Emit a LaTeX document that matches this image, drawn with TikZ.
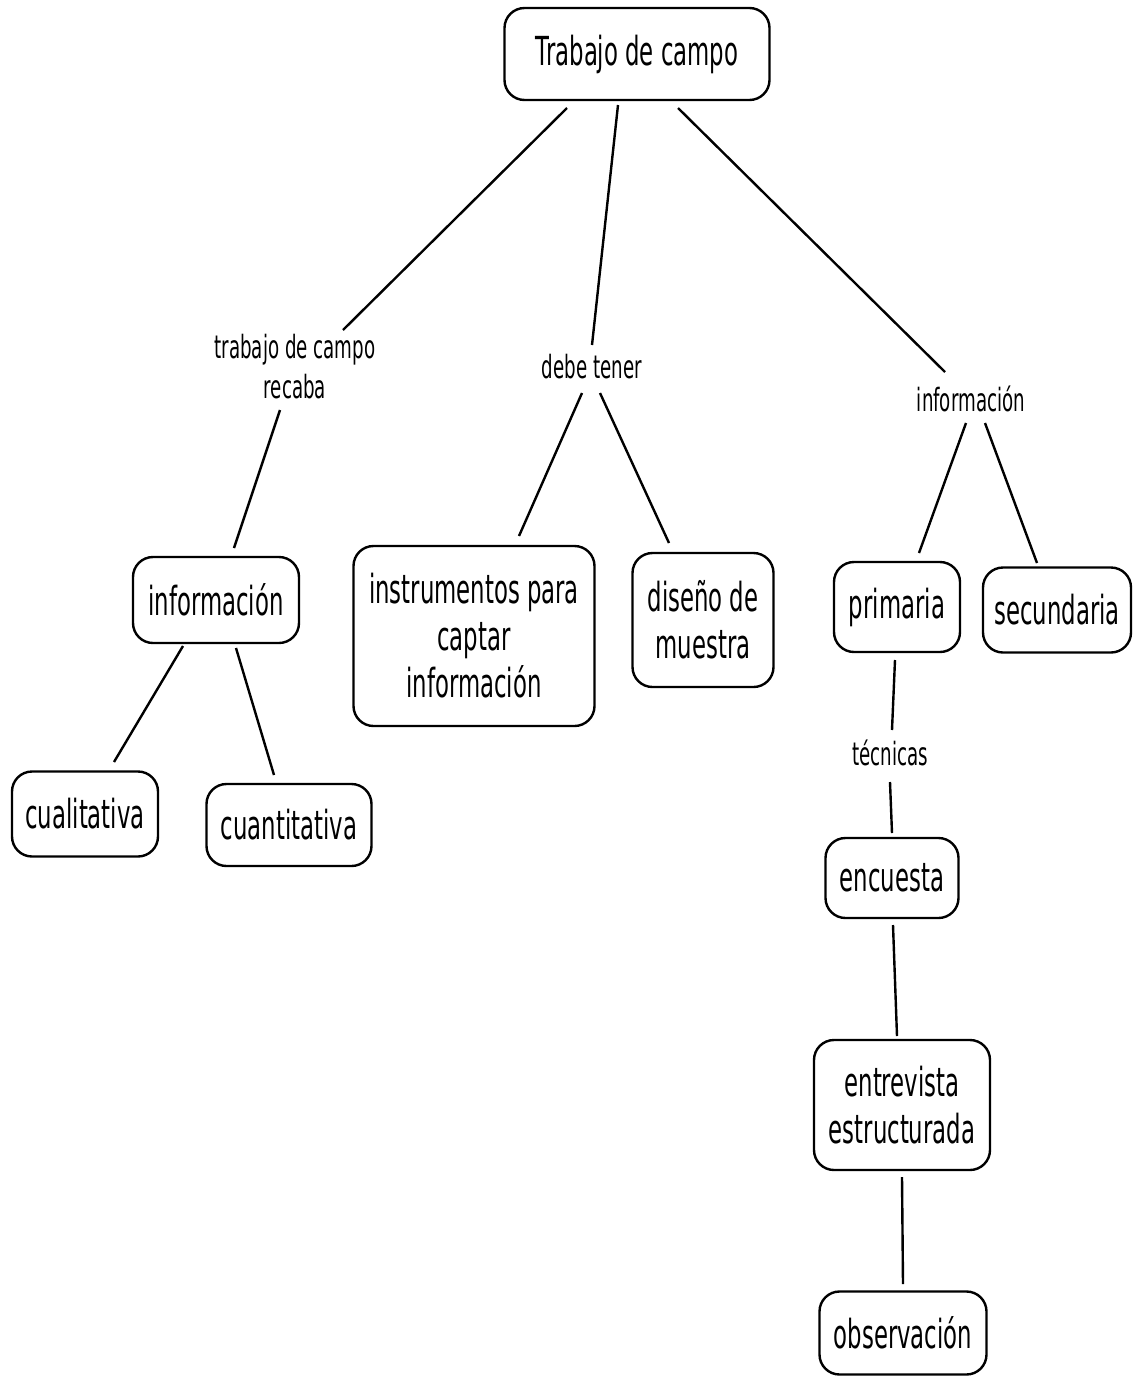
\documentclass[tikz,border=0pt]{standalone}
\usepackage{fontspec}
\setmainfont{DejaVu Sans}[FakeStretch=0.57]
\begin{document}
\begin{tikzpicture}[x=1pt,y=-1pt,
  box/.style={draw,line width=2.4pt,rounded corners=20pt,align=center,inner sep=0pt,
    font=\fontsize{40}{47}\selectfont},
  lab/.style={align=center,inner sep=0pt,font=\fontsize{32}{40}\selectfont},
  conn/.style={line width=2.4pt}]
\useasboundingbox (0,0) rectangle (1133,1377);
\node[box,minimum width=265pt,minimum height=92pt] (top) at (637,54) {Trabajo de campo};
\node[box,minimum width=166pt,minimum height=86pt] (infoL) at (216,600) {información};
\node[box,minimum width=146pt,minimum height=85pt] (cuali) at (85,814) {cualitativa};
\node[box,minimum width=165pt,minimum height=82pt] (cuanti) at (289,825) {cuantitativa};
\node[box,minimum width=241pt,minimum height=180pt] (instr) at (474,636) {instrumentos para\\captar\\información};
\node[box,minimum width=141pt,minimum height=134pt] (diseno) at (703,620) {diseño de\\muestra};
\node[box,minimum width=126pt,minimum height=90pt] (prim) at (897,607) {primaria};
\node[box,minimum width=148pt,minimum height=85pt] (sec) at (1057,610) {secundaria};
\node[box,minimum width=133pt,minimum height=80pt] (enc) at (892,878) {encuesta};
\node[box,minimum width=176pt,minimum height=130pt] (entr) at (902,1105) {entrevista\\estructurada};
\node[box,minimum width=167pt,minimum height=83pt] (obs) at (903,1333) {observación};

\node[lab] (lab1) at (295,367) {trabajo de campo\\recaba};
\node[lab] (lab2) at (592,367) {debe tener};
\node[lab] (lab3) at (971,399) {información};
\node[lab] (lab4) at (890,753) {técnicas};

\draw[conn] ([shift={(-70,54)}]top.center) -- ([shift={(48,-37)}]lab1.center);
\draw[conn] ([shift={(-19,51)}]top.center) -- ([shift={(0,-22)}]lab2.center);
\draw[conn] ([shift={(41,54)}]top.center) -- ([shift={(-26,-27)}]lab3.center);
\draw[conn] ([shift={(-15,43)}]lab1.center) -- ([shift={(18,-52)}]infoL.center);
\draw[conn] ([shift={(-10,26)}]lab2.center) -- ([shift={(45,-100)}]instr.center);
\draw[conn] ([shift={(8,26)}]lab2.center) -- ([shift={(-34,-77)}]diseno.center);
\draw[conn] ([shift={(-5,24)}]lab3.center) -- ([shift={(22,-54)}]prim.center);
\draw[conn] ([shift={(14,24)}]lab3.center) -- ([shift={(-20,-47)}]sec.center);
\draw[conn] ([shift={(-33,46)}]infoL.center) -- ([shift={(29,-52)}]cuali.center);
\draw[conn] ([shift={(20,48)}]infoL.center) -- ([shift={(-15,-50)}]cuanti.center);
\draw[conn] ([shift={(-2,53)}]prim.center) -- ([shift={(2,-23)}]lab4.center);
\draw[conn] ([shift={(0,29)}]lab4.center) -- ([shift={(0,-45)}]enc.center);
\draw[conn] ([shift={(1,47)}]enc.center) -- ([shift={(-5,-69)}]entr.center);
\draw[conn] ([shift={(0,72)}]entr.center) -- ([shift={(0,-49)}]obs.center);
\end{tikzpicture}
\end{document}
